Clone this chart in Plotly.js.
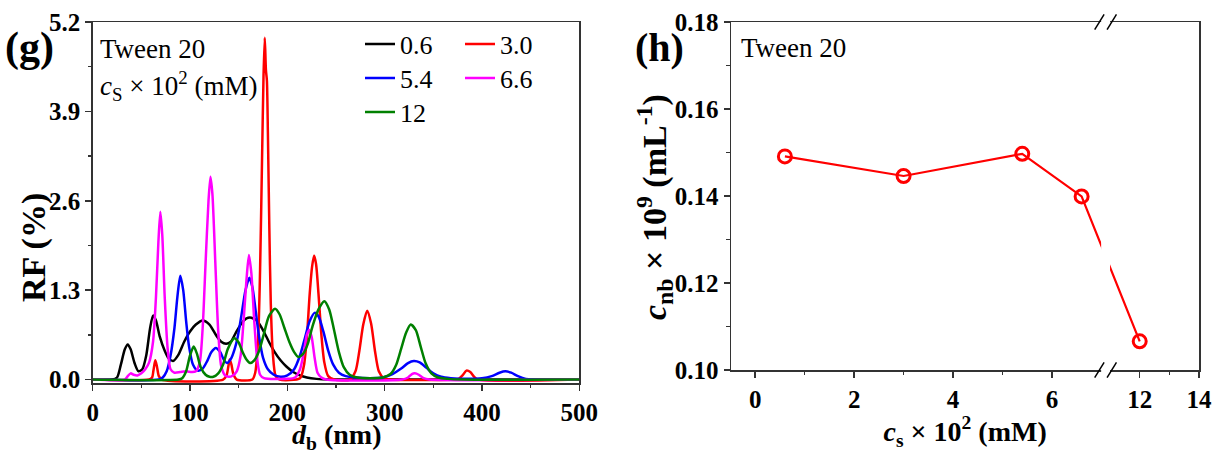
<!DOCTYPE html>
<html>
<head>
<meta charset="utf-8">
<script src="https://cdn.plot.ly/plotly-3.0.1.min.js"></script>
<style>html,body{margin:0;padding:0;background:#fff;}#chart{width:1212px;height:453px;}</style>
</head>
<body>
<div id="chart"></div>
<script>
// ---------- Panel (g): RF distributions, d_b (nm) vs RF (%) ----------
const seriesNames = ["0.6", "3.0", "5.4", "6.6", "12"];
const seriesColors = ["#000000", "#FF0000", "#0000FF", "#FF00FF", "#008000"];

const x06 = [0, 20, 25, 29, 33, 36, 39, 43, 47, 51, 55, 59, 62, 65, 69, 74, 78, 82.5, 88, 94, 100, 106, 113, 120, 127, 132, 137, 142, 147, 153, 158, 163, 169, 175, 181, 187, 193, 199, 206, 213, 220, 230, 245, 260, 500];
const y06 = [0, 0, 0.03, 0.22, 0.44, 0.51, 0.44, 0.24, 0.12, 0.15, 0.35, 0.75, 0.93, 0.86, 0.62, 0.42, 0.31, 0.27, 0.36, 0.55, 0.70, 0.80, 0.86, 0.80, 0.64, 0.55, 0.52, 0.55, 0.68, 0.82, 0.89, 0.90, 0.85, 0.72, 0.55, 0.40, 0.28, 0.19, 0.11, 0.06, 0.03, 0.01, 0, 0, 0];

const x30 = [0, 58, 61, 62.5, 64.3, 66, 68, 71, 134, 137.5, 139.5, 140.8, 142.5, 144.5, 148, 164, 167, 170, 172, 174, 175.5, 176.8, 178, 179, 180, 181.5, 183, 185, 188, 192, 213, 217, 220, 223, 225.5, 227.5, 229.5, 232, 235, 238, 242, 248, 264, 270, 274, 278, 282, 286, 290, 294, 299, 305, 372, 376, 380, 384, 388, 392, 396, 500];
const y30 = [0, 0, 0.03, 0.14, 0.28, 0.19, 0.05, 0, 0, 0.06, 0.20, 0.29, 0.22, 0.08, 0, 0, 0.10, 0.60, 1.60, 3.20, 4.40, 4.97, 4.50, 4.35, 3.60, 2.20, 1.10, 0.40, 0.05, 0, 0.02, 0.20, 0.60, 1.25, 1.65, 1.80, 1.68, 1.25, 0.65, 0.25, 0.05, 0, 0, 0.12, 0.42, 0.80, 1.00, 0.82, 0.42, 0.12, 0.02, 0, 0, 0.01, 0.06, 0.13, 0.11, 0.04, 0, 0];

const x54 = [0, 68, 72, 76, 80, 84, 87, 90, 93, 96, 99, 103, 108, 113, 118, 122, 126.5, 131, 135, 138, 142, 146, 149, 153, 157, 161, 164, 167, 171, 175, 180, 186, 193, 200, 207, 213, 218, 223, 228, 232, 237, 242, 247, 253, 260, 270, 285, 298, 308, 317, 324, 330, 336, 343, 350, 358, 368, 385, 400, 410, 418, 424, 430, 437, 445, 452, 500];
const y54 = [0, 0, 0.03, 0.12, 0.35, 0.75, 1.20, 1.51, 1.30, 0.85, 0.48, 0.22, 0.13, 0.16, 0.28, 0.40, 0.46, 0.40, 0.28, 0.24, 0.30, 0.45, 0.62, 0.95, 1.30, 1.48, 1.35, 1.05, 0.62, 0.32, 0.15, 0.07, 0.04, 0.06, 0.15, 0.35, 0.60, 0.85, 0.97, 0.92, 0.70, 0.42, 0.22, 0.10, 0.05, 0.03, 0.02, 0.03, 0.08, 0.16, 0.24, 0.27, 0.25, 0.17, 0.09, 0.04, 0.02, 0.01, 0.02, 0.05, 0.10, 0.12, 0.10, 0.05, 0.01, 0, 0];

const x66 = [0, 33, 36, 39, 42, 46, 50, 54, 58, 62, 65, 67.5, 69.5, 71.5, 74, 77, 80, 84, 90, 96, 102, 106, 110, 113, 116, 119, 121, 123, 126, 129, 132, 136, 140, 144, 148, 152, 155, 158, 160.5, 163, 166, 169, 172, 176, 200, 208, 213, 217, 220, 222.5, 225, 228, 231, 235, 240, 318, 324, 328, 331, 335, 340, 346, 500];
const y66 = [0, 0, 0.05, 0.09, 0.07, 0.06, 0.09, 0.15, 0.25, 0.55, 1.20, 2.00, 2.44, 2.10, 1.20, 0.45, 0.15, 0.10, 0.11, 0.12, 0.11, 0.12, 0.25, 0.75, 1.70, 2.60, 2.95, 2.70, 1.70, 0.70, 0.20, 0.06, 0.04, 0.06, 0.12, 0.35, 0.85, 1.45, 1.81, 1.55, 0.85, 0.30, 0.07, 0.02, 0.01, 0.03, 0.15, 0.40, 0.65, 0.72, 0.62, 0.32, 0.10, 0.03, 0, 0, 0.03, 0.08, 0.09, 0.07, 0.02, 0, 0];

const x12 = [0, 88, 92, 96, 100, 103.8, 107, 111, 116, 120, 124, 129, 134, 139, 145.5, 150, 154, 158, 161.7, 166, 171, 176, 181, 187.4, 192, 197, 202, 207, 211.3, 216, 221, 226, 232, 238, 243, 248, 253, 258, 264, 272, 285, 298, 306, 312, 317, 322, 326.8, 332, 337, 342, 348, 355, 365, 380, 500];
const y12 = [0, 0, 0.02, 0.12, 0.35, 0.48, 0.38, 0.18, 0.07, 0.04, 0.04, 0.09, 0.22, 0.45, 0.60, 0.54, 0.40, 0.29, 0.24, 0.28, 0.42, 0.67, 0.92, 1.03, 0.95, 0.75, 0.55, 0.40, 0.33, 0.37, 0.52, 0.78, 1.02, 1.14, 1.02, 0.72, 0.40, 0.18, 0.07, 0.03, 0.02, 0.03, 0.08, 0.22, 0.45, 0.68, 0.80, 0.72, 0.48, 0.24, 0.09, 0.03, 0.01, 0, 0];

const gX = [x06, x30, x54, x66, x12];
const gY = [y06, y30, y54, y66, y12];

const gTickVals = [0, 1.3, 2.6, 3.9, 5.2];
const gXTicks = [0, 100, 200, 300, 400, 500];

// ---------- Panel (h): c_nb vs c_s ----------
const hCs = [0.6, 3.0, 5.4, 6.6, 12];
const hCnb = [0.1491, 0.1446, 0.1497, 0.1399, 0.1066];
const hXTicks = [0, 2, 4, 6, 12, 14];
const hXMinor = [1, 3, 5, 13];

// x-axis break configuration for panel (h)
const BREAK_FROM = 7.085, BREAK_TO = 10.85, RIGHT_RATIO = 0.6;
function brk(x) { return x <= BREAK_FROM ? x : BREAK_FROM + (x - BREAK_TO) * RIGHT_RATIO; }

const SERIF = "Liberation Serif, Times New Roman, serif";

// legend placement (one legend box per entry, two columns)
const legendIds = ["legend", "legend2", "legend3", "legend4", "legend5"];
const legendPos = [[360, 44], [460, 44], [360, 78], [460, 78], [360, 112]];

const data = [];
for (let i = 0; i < seriesNames.length; i++) {
  data.push({
    type: "scatter", mode: "lines", x: gX[i], y: gY[i], name: seriesNames[i],
    xaxis: "x", yaxis: "y", legend: legendIds[i],
    line: {color: seriesColors[i], width: 2.5, shape: "spline", smoothing: 0.7},
    hoverinfo: "skip"
  });
}
data.push({
  type: "scatter", mode: "lines+markers", x: hCs.map(brk), y: hCnb,
  xaxis: "x2", yaxis: "y2", showlegend: false,
  line: {color: "#FF0000", width: 2.2},
  marker: {symbol: "circle-open", size: 13, color: "#FF0000", line: {width: 3, color: "#FF0000"}},
  cliponaxis: false
});

const frame = "#333333";
const tickFont = {family: SERIF, size: 25, color: "#000", weight: "bold"};
const titleFont = {family: SERIF, size: 28, color: "#000", weight: "bold"};
const yTitleFont = {family: SERIF, size: 34, color: "#000", weight: "bold"};
const gDomY = [1 - 383 / 453, 1 - 22 / 453];
const hDomY = [1 - 370 / 453, 1 - 22 / 453];

const layout = {
  width: 1212, height: 453,
  margin: {l: 0, r: 0, t: 0, b: 0},
  paper_bgcolor: "#fff", plot_bgcolor: "#fff",
  showlegend: true,
  xaxis: {
    domain: [92.7 / 1212, 579.3 / 1212], range: [0, 500], anchor: "y",
    tickvals: gXTicks, ticks: "outside", ticklen: 6, tickwidth: 1.5, tickcolor: frame,
    minor: {dtick: 50, tick0: 0, ticks: "outside", ticklen: 3.5, tickwidth: 1.5, tickcolor: frame},
    showline: true, linecolor: frame, linewidth: 1.5, mirror: true,
    showgrid: false, zeroline: false, tickfont: tickFont, ticklabeloverflow: "allow"
  },
  yaxis: {
    domain: gDomY, range: [-0.05, 5.2], anchor: "x",
    tickvals: gTickVals, tickformat: ".1f", ticks: "outside", ticklen: 6, tickwidth: 1.5, tickcolor: frame,
    minor: {dtick: 0.65, tick0: 0, ticks: "outside", ticklen: 3.5, tickwidth: 1.5, tickcolor: frame},
    showline: true, linecolor: frame, linewidth: 1.5, mirror: true,
    showgrid: false, zeroline: false, tickfont: tickFont, ticklabeloverflow: "allow"
  },
  xaxis3: {
    overlaying: "x", side: "top", anchor: "y", range: [0, 500], dtick: 50, tick0: 0,
    ticks: "inside", ticklen: 3, tickwidth: 1, tickcolor: frame,
    showticklabels: false, showgrid: false, zeroline: false, showline: false
  },
  yaxis3: {
    overlaying: "y", side: "right", anchor: "x", range: [-0.05, 5.2], dtick: 0.65, tick0: 0,
    ticks: "inside", ticklen: 3, tickwidth: 1, tickcolor: frame,
    showticklabels: false, showgrid: false, zeroline: false, showline: false
  },
  xaxis2: {
    domain: [731 / 1212, 1199.3 / 1212], range: [brk(-0.49), brk(14) + 0.005], anchor: "y2",
    tickvals: hXTicks.map(brk), ticktext: hXTicks.map(String),
    ticks: "outside", ticklen: 6, tickwidth: 1.5, tickcolor: frame,
    minor: {tickvals: hXMinor.map(brk), ticks: "outside", ticklen: 3.5, tickwidth: 1.5, tickcolor: frame},
    showline: true, linecolor: frame, linewidth: 1.5, mirror: true,
    showgrid: false, zeroline: false, tickfont: tickFont, ticklabeloverflow: "allow",
    title: {text: "<i>c</i><sub>s</sub> × 10<sup>2</sup> (mM)", font: titleFont, standoff: 5}
  },
  yaxis2: {
    domain: hDomY, range: [0.10, 0.18], anchor: "x2",
    dtick: 0.02, tick0: 0.10, tickformat: ".2f",
    ticks: "outside", ticklen: 6, tickwidth: 1.5, tickcolor: frame,
    minor: {dtick: 0.01, tick0: 0.10, ticks: "outside", ticklen: 3.5, tickwidth: 1.5, tickcolor: frame},
    showline: true, linecolor: frame, linewidth: 1.5, mirror: true,
    showgrid: false, zeroline: false, tickfont: tickFont, ticklabeloverflow: "allow"
  },
  annotations: [
    {text: "(g)", xref: "paper", yref: "paper", x: 29 / 1212, y: 1 - 48 / 453, xanchor: "center", yanchor: "middle",
     showarrow: false, font: {family: SERIF, size: 42, color: "#000", weight: "bold"}},
    {text: "(h)", xref: "paper", yref: "paper", x: 659 / 1212, y: 1 - 48 / 453, xanchor: "center", yanchor: "middle",
     showarrow: false, font: {family: SERIF, size: 40, color: "#000", weight: "bold"}},
    {text: "Tween 20", xref: "paper", yref: "paper", x: 98 / 1212, y: 1 - 49 / 453, xanchor: "left", yanchor: "middle",
     showarrow: false, font: {family: SERIF, size: 27, color: "#000"}},
    {text: "<i>c</i><sub>S</sub> × 10<sup>2</sup> (mM)", xref: "paper", yref: "paper", x: 98 / 1212, y: 1 - 86 / 453,
     xanchor: "left", yanchor: "middle", showarrow: false, font: {family: SERIF, size: 27, color: "#000"}},
    {text: "Tween 20", xref: "paper", yref: "paper", x: 739 / 1212, y: 1 - 48 / 453, xanchor: "left", yanchor: "middle",
     showarrow: false, font: {family: SERIF, size: 27, color: "#000"}},
    {text: "<i>d</i><sub>b</sub> (nm)", xref: "x domain", yref: "paper", x: 0.5, y: 1 - 436.5 / 453, xanchor: "center", yanchor: "middle",
     showarrow: false, font: titleFont},
    {text: "RF (%)", xref: "paper", yref: "paper", x: 34 / 1212, y: 1 - 248 / 453, xanchor: "center", yanchor: "middle",
     textangle: -90, showarrow: false, font: yTitleFont},
    {text: "<i>c</i><sub>nb</sub> × 10<sup>9</sup> (mL<sup>-1</sup>)", xref: "paper", yref: "paper", x: 654 / 1212, y: 1 - 207 / 453,
     xanchor: "center", yanchor: "middle", textangle: -90, showarrow: false, font: yTitleFont}
  ],
  shapes: [
    {type: "rect", layer: "above", xref: "x2", yref: "y2 domain", x0: BREAK_FROM - 0.09, x1: BREAK_FROM + 0.09, y0: -0.012, y1: 1.012,
     fillcolor: "#ffffff", line: {width: 0}},
    {type: "line", layer: "above", xref: "x2", yref: "y2 domain", x0: BREAK_FROM - 0.22, x1: BREAK_FROM - 0.03, y0: 1 - 0.022, y1: 1 + 0.022, line: {color: "#000", width: 1.5}},
    {type: "line", layer: "above", xref: "x2", yref: "y2 domain", x0: BREAK_FROM + 0.03, x1: BREAK_FROM + 0.22, y0: 1 - 0.022, y1: 1 + 0.022, line: {color: "#000", width: 1.5}},
    {type: "line", layer: "above", xref: "x2", yref: "y2 domain", x0: BREAK_FROM - 0.22, x1: BREAK_FROM - 0.03, y0: -0.022, y1: 0.022, line: {color: "#000", width: 1.5}},
    {type: "line", layer: "above", xref: "x2", yref: "y2 domain", x0: BREAK_FROM + 0.03, x1: BREAK_FROM + 0.22, y0: -0.022, y1: 0.022, line: {color: "#000", width: 1.5}}
  ]
};
for (let i = 0; i < legendIds.length; i++) {
  layout[legendIds[i]] = {
    x: legendPos[i][0] / 1212, y: 1 - legendPos[i][1] / 453, xanchor: "left", yanchor: "middle",
    bgcolor: "rgba(0,0,0,0)", borderwidth: 0,
    font: {family: SERIF, size: 26, color: "#000"}
  };
}

Plotly.newPlot("chart", data, layout, {staticPlot: true, displayModeBar: false});
</script>
</body>
</html>
